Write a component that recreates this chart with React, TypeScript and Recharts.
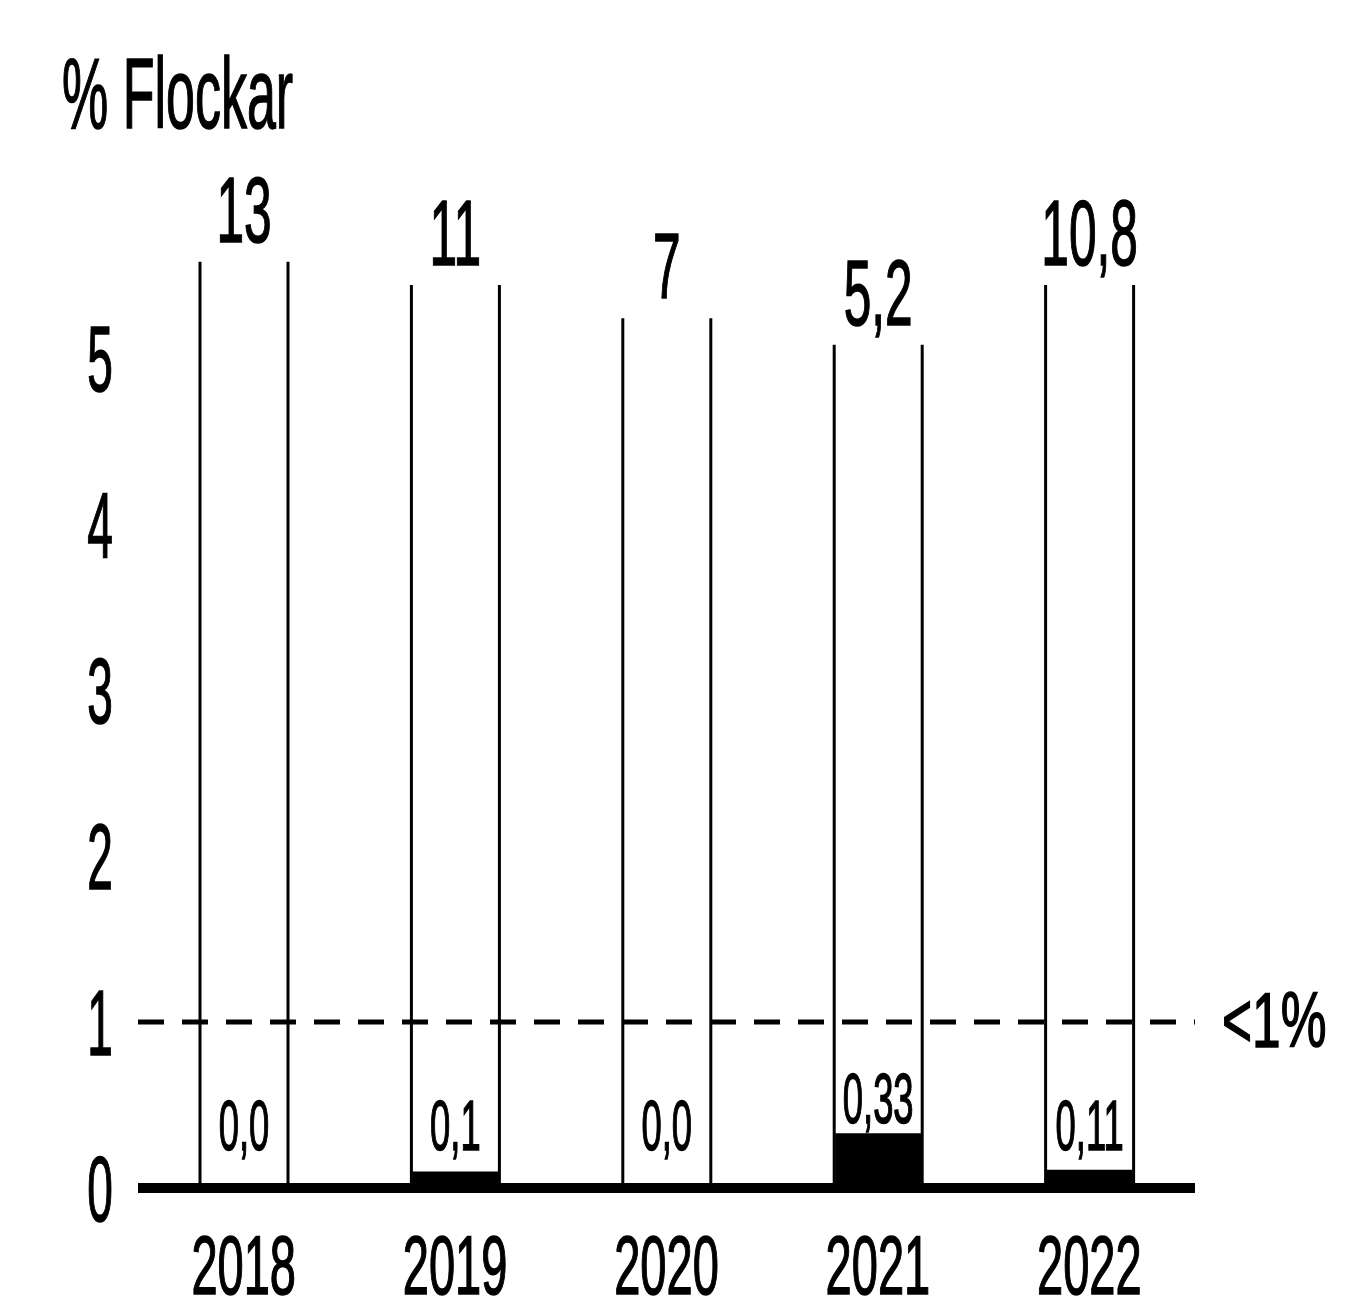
import React from 'react';
import { BarChart, Bar, XAxis, YAxis, ReferenceLine, LabelList } from 'recharts';

// values
const years = ['2018', '2019', '2020', '2021', '2022'];
const totalShare = [13, 11, 7, 5.2, 10.8];
// the outline bars are broken off just above 5, at these heights
const drawnTops = [5.58, 5.44, 5.24, 5.08, 5.44];
const underOneShare = [0.0, 0.1, 0.0, 0.33, 0.11];
const yTicks = [0, 1, 2, 3, 4, 5];
const limit = 1;

const data = years.map((year, i) => ({
  year,
  total: totalShare[i],
  drawn: drawnTops[i],
  under: underOneShare[i],
}));

const FONT = '"Liberation Sans", Arial, sans-serif';

const fmt = (v: number) => (v === 0 ? '0,0' : String(v).replace('.', ','));

// narrow text: the original uses a condensed face
const Narrow = ({ x, y, size, sx, children, anchor = 'middle' }: any) => (
  <text
    transform={`translate(${x},${y}) scale(${sx},1)`}
    textAnchor={anchor}
    fontFamily={FONT}
    fontSize={size}
    fill="#000"
    stroke="#000"
    strokeWidth={1.5}
  >
    {children}
  </text>
);

const YTick = (props: any) => {
  const { x, y, payload } = props;
  return (
    <Narrow x={x - 30} y={y + 33} size={92} sx={0.5}>
      {payload.value}
    </Narrow>
  );
};

const XTick = (props: any) => {
  const { x, y, payload } = props;
  return (
    <Narrow x={x} y={y + 98} size={84} sx={0.56}>
      {payload.value}
    </Narrow>
  );
};

// open bars: only the two sides are drawn
const OpenBar = (props: any) => {
  const { x, y, width, height } = props;
  return (
    <g stroke="#000" strokeWidth={3}>
      <line x1={x} y1={y} x2={x} y2={y + height} />
      <line x1={x + width} y1={y} x2={x + width} y2={y + height} />
    </g>
  );
};

const TotalLabel = (props: any) => {
  const { x, y, width, index } = props;
  return (
    <Narrow x={x + width / 2} y={y - 20} size={92} sx={0.54}>
      {fmt(totalShare[index])}
    </Narrow>
  );
};

// small value sitting on top of the filled part (also shown where it is 0)
const UnderLabel = (props: any) => {
  const { x, y, width, height, index } = props;
  const v = underOneShare[index];
  const base = y + height;
  const top = base - (v * height) / drawnTops[index];
  return (
    <Narrow x={x + width / 2} y={Math.min(top - 10, base - 38)} size={70} sx={0.52}>
      {fmt(v)}
    </Narrow>
  );
};

const LimitLabel = (props: any) => {
  const { viewBox } = props;
  return (
    <Narrow x={viewBox.x + viewBox.width + 27} y={viewBox.y + 25} size={78} sx={0.66} anchor="start">
      {'<1%'}
    </Narrow>
  );
};

export default function App() {
  return (
    <div style={{ position: 'absolute', left: 0, top: 0, width: 1365, height: 1311, background: '#fff' }}>
      <BarChart
        width={1365}
        height={1311}
        data={data}
        margin={{ top: 192, right: 170, bottom: 13, left: 0 }}
      >
        <text
          transform="translate(62,128) scale(0.52,1)"
          fontFamily={FONT}
          fontSize={100}
          fill="#000"
          stroke="#000"
          strokeWidth={1.5}
        >
          % Flockar
        </text>
        <XAxis
          xAxisId="main"
          dataKey="year"
          height={110}
          axisLine={{ stroke: '#000', strokeWidth: 10 }}
          tickLine={false}
          tick={<XTick />}
        />
        <XAxis xAxisId="inner" dataKey="year" hide height={0} />
        <YAxis
          domain={[0, 6]}
          ticks={yTicks}
          width={138}
          axisLine={false}
          tickLine={false}
          tick={<YTick />}
        />
        <Bar xAxisId="main" dataKey="drawn" barSize={88} shape={<OpenBar />} isAnimationActive={false}>
          <LabelList dataKey="total" content={<TotalLabel />} />
          <LabelList dataKey="under" content={<UnderLabel />} />
        </Bar>
        <Bar xAxisId="inner" dataKey="under" barSize={86} fill="#000" isAnimationActive={false} />
        <ReferenceLine
          xAxisId="main"
          y={limit}
          stroke="#000"
          strokeWidth={5}
          strokeDasharray="26 18"
          label={<LimitLabel />}
        />
      </BarChart>
    </div>
  );
}
